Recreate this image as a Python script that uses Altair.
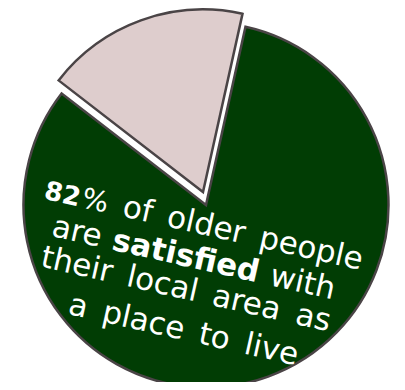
import math
import itertools
import altair as alt
import pandas as pd

# ---- data ----
categories = ["Satisfied", "Not satisfied"]
shares = [82, 18]
slice_colors = ["#013d04", "#decdcd"]

# annotation text, word by word per line: (word, bold)
line1 = [("82", True), ("%", False), ("of", False), ("older", False), ("people", False)]
line2 = [("are", False), ("satisfied", True), ("with", False)]
line3 = [("their", False), ("local", False), ("area", False), ("as", False)]
line4 = [("a", False), ("place", False), ("to", False), ("live", False)]

ends = list(itertools.accumulate(shares))
starts = [0] + ends[:-1]
df = pd.DataFrame({"category": categories, "share": shares, "start": starts, "end": ends})

# ---- layout (chart pixel coordinates) ----
OFF = 8  # page margin
START_DEG = 12.5
a0 = math.radians(START_DEG)
theta_scale = alt.Scale(domain=[0, sum(shares)], range=[a0, a0 + 2 * math.pi])
color_scale = alt.Scale(domain=categories, range=slice_colors)
STROKE = "#4a4446"
R = 182.5
centers = {"Satisfied": (206 - OFF, 205 - OFF), "Not satisfied": (203 - OFF, 192 - OFF)}


def slice_layer(cat):
    cx, cy = centers[cat]
    return (
        alt.Chart(df)
        .transform_filter(alt.datum.category == cat)
        .mark_arc(x=cx, y=cy, radius=R, stroke=STROKE, strokeWidth=2.5, strokeJoin="miter")
        .encode(
            theta=alt.Theta("start:Q", scale=theta_scale),
            theta2="end:Q",
            color=alt.Color("category:N", scale=color_scale, legend=None),
        )
    )


# approximate DejaVu Sans advance widths (em) for word placement
W_REG = {"a": .613, "r": .411, "e": .615, "t": .392, "h": .634, "i": .278, "l": .278, "o": .612,
         "c": .550, "s": .521, "p": .635, "d": .635, "f": .352, "v": .592, "w": .818, "%": .950}
W_BOLD = {"s": .595, "a": .675, "t": .478, "i": .343, "f": .435, "e": .678, "d": .716, "8": .696, "2": .696}


def word_width(w, bold, fs):
    table = W_BOLD if bold else W_REG
    return sum(table.get(ch, 0.6) for ch in w) * fs


TEXT_ANGLE = 12.7
ca, sa = math.cos(math.radians(TEXT_ANGLE)), math.sin(math.radians(TEXT_ANGLE))
slope = sa / ca
FS = 31
# per line: baseline reference point (page), start x, font sizes, gaps before each word (px along line)
line_refs = [(52, 200.5), (60, 238), (56, 270), (77, 316)]
line_start_x = [43, 50.5, 39.6, 67]
line_sizes = [[26, 28, FS, FS, FS], [FS] * 3, [FS] * 4, [FS] * 4]
line_gaps = [[0, 2, 15.5, 15.5, 15.5], [0, 11, 11], [0, 15.5, 15.5, 15.5], [0, 15.5, 15.5, 15.5]]

text_layers = []
for words, (x0, y0), sx, sizes, gaps in zip([line1, line2, line3, line4], line_refs, line_start_x, line_sizes, line_gaps):
    along = 0.0
    for (w, bold), fs, g in zip(words, sizes, gaps):
        along += g
        ax = sx + along * ca
        ay = y0 + (sx - x0) * slope + along * sa
        along += word_width(w, bold, fs)
        text_layers.append(
            alt.Chart(pd.DataFrame({"t": [w]}))
            .mark_text(
                angle=TEXT_ANGLE,
                align="left",
                baseline="alphabetic",
                font="DejaVu Sans",
                fontSize=fs,
                fontWeight="bold" if bold else "normal",
                color="white",
            )
            .encode(text="t:N", x=alt.value(ax - OFF), y=alt.value(ay - OFF))
        )

chart = (
    alt.layer(slice_layer("Satisfied"), slice_layer("Not satisfied"), *text_layers)
    .properties(width=389, height=374, padding=0, autosize=alt.AutoSizeParams(type="none"), background="white")
    .configure_view(strokeWidth=0)
)

chart.save("out.html", embed_options={"renderer": "svg", "actions": False})
